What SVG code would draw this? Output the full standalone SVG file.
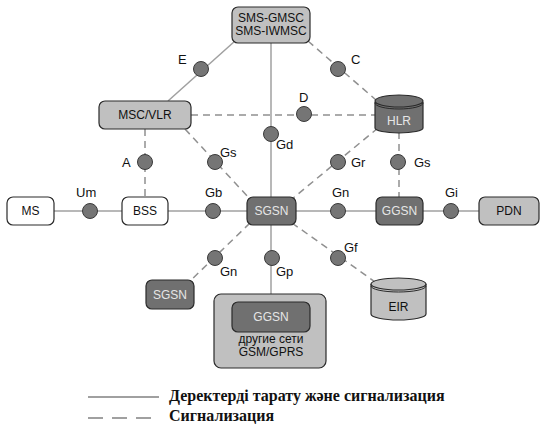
<svg xmlns="http://www.w3.org/2000/svg" width="546" height="424" viewBox="0 0 546 424">
<style>
.s{stroke:#a0a0a0;stroke-width:1.5;fill:none}
.d{stroke:#909090;stroke-width:1.5;fill:none;stroke-dasharray:7 5}
.c{fill:#757575;stroke:#3a3a3a;stroke-width:1}
.lb{font-family:"Liberation Sans",Arial,sans-serif;font-size:13px;fill:#111}
.bx{stroke:#2a2a2a;stroke-width:1.2}
.t{font-family:"Liberation Sans",Arial,sans-serif;font-size:12px;text-anchor:middle;fill:#111}
.tw{font-family:"Liberation Sans",Arial,sans-serif;font-size:12px;text-anchor:middle;fill:#e6e6e6}
.lg{font-family:"Liberation Serif","Times New Roman",serif;font-size:16px;font-weight:bold;fill:#111}
</style>
<rect width="546" height="424" fill="#fff"/>
<g id="connectors">
<line class="s" x1="271" y1="43" x2="271" y2="197"/>
<line class="s" x1="168" y1="101" x2="235" y2="41"/>
<line class="d" x1="308" y1="41" x2="376" y2="100"/>
<line class="d" x1="191" y1="115" x2="375" y2="115"/>
<line class="d" x1="185" y1="129" x2="250" y2="199"/>
<line class="d" x1="378" y1="128" x2="292" y2="199"/>
<line class="d" x1="399" y1="132" x2="399" y2="197"/>
<line class="d" x1="145" y1="129" x2="145" y2="197"/>
<line class="s" x1="54" y1="211" x2="122" y2="211"/>
<line class="s" x1="168" y1="211" x2="247" y2="211"/>
<line class="s" x1="296" y1="211" x2="376" y2="211"/>
<line class="s" x1="423" y1="211" x2="479" y2="211"/>
<line class="d" x1="250" y1="223" x2="188" y2="283"/>
<line class="s" x1="271" y1="225" x2="271" y2="294"/>
<line class="d" x1="292" y1="223" x2="378" y2="284"/>
<circle class="c" cx="201" cy="69" r="7.5"/>
<circle class="c" cx="338" cy="69" r="7.5"/>
<circle class="c" cx="304" cy="114" r="7.5"/>
<circle class="c" cx="271" cy="134" r="7.5"/>
<circle class="c" cx="145" cy="162" r="7.5"/>
<circle class="c" cx="215" cy="162" r="7.5"/>
<circle class="c" cx="338" cy="162" r="7.5"/>
<circle class="c" cx="398" cy="162" r="7.5"/>
<circle class="c" cx="90" cy="211" r="7.5"/>
<circle class="c" cx="213" cy="211" r="7.5"/>
<circle class="c" cx="338" cy="211" r="7.5"/>
<circle class="c" cx="451" cy="211" r="7.5"/>
<circle class="c" cx="215" cy="258" r="7.5"/>
<circle class="c" cx="272" cy="258" r="7.5"/>
<circle class="c" cx="338" cy="258" r="7.5"/>
<text class="lb" x="178" y="64">E</text>
<text class="lb" x="351" y="64">C</text>
<text class="lb" x="299" y="102">D</text>
<text class="lb" x="276" y="149">Gd</text>
<text class="lb" x="122" y="167">A</text>
<text class="lb" x="220" y="157">Gs</text>
<text class="lb" x="351" y="167">Gr</text>
<text class="lb" x="414" y="167">Gs</text>
<text class="lb" x="76" y="197">Um</text>
<text class="lb" x="205" y="197">Gb</text>
<text class="lb" x="332" y="197">Gn</text>
<text class="lb" x="445" y="197">Gi</text>
<text class="lb" x="220" y="276">Gn</text>
<text class="lb" x="276" y="276">Gp</text>
<text class="lb" x="344" y="252">Gf</text>
</g>
<g id="sms-gmsc">
<rect class="bx" x="232" y="7" width="78" height="36" rx="6" fill="#c0c0c0"/>
<text class="t" x="271" y="22" font-size="11">SMS-GMSC</text>
<text class="t" x="271" y="35" font-size="11">SMS-IWMSC</text>
</g>
<g id="msc-vlr">
<rect class="bx" x="99" y="101" width="92" height="28" rx="6" fill="#c0c0c0"/>
<text class="t" x="145" y="119">MSC/VLR</text>
</g>
<g id="hlr">
<path d="M375,102 L375,128 A24,5 0 0 0 423,128 L423,102" fill="#707070" stroke="#2a2a2a" stroke-width="1.2"/>
<ellipse cx="399" cy="101" rx="24" ry="6" fill="#707070" stroke="#2a2a2a" stroke-width="1.2"/>
<path d="M375,103 A24,6 0 0 0 423,103" fill="none" stroke="#2a2a2a" stroke-width="1"/>
<text class="tw" x="399" y="125" font-size="14">HLR</text>
</g>
<g id="ms">
<rect class="bx" x="7" y="197" width="47" height="28" rx="6" fill="#fff"/>
<text class="t" x="30.5" y="215">MS</text>
</g>
<g id="bss">
<rect class="bx" x="122" y="197" width="46" height="28" rx="6" fill="#fff"/>
<text class="t" x="145" y="215">BSS</text>
</g>
<g id="sgsn">
<rect class="bx" x="247" y="197" width="49" height="28" rx="6" fill="#707070"/>
<text class="tw" x="271.5" y="215">SGSN</text>
</g>
<g id="ggsn">
<rect class="bx" x="376" y="197" width="47" height="28" rx="6" fill="#707070"/>
<text class="tw" x="399.5" y="215">GGSN</text>
</g>
<g id="pdn">
<rect class="bx" x="479" y="197" width="60" height="28" rx="6" fill="#c0c0c0"/>
<text class="t" x="509" y="215">PDN</text>
</g>
<g id="sgsn2">
<rect class="bx" x="146" y="280" width="48" height="29" rx="6" fill="#707070"/>
<text class="tw" x="170" y="299">SGSN</text>
</g>
<g id="other-networks">
<rect class="bx" x="214" y="294" width="112" height="74" rx="7" fill="#c0c0c0"/>
<rect class="bx" x="232" y="302" width="78" height="30" rx="6" fill="#707070"/>
<text class="tw" x="271" y="321">GGSN</text>
<text class="t" x="271" y="343" font-size="9.5">другие сети</text>
<text class="t" x="271" y="356" font-size="9.5">GSM/GPRS</text>
</g>
<g id="eir">
<path d="M371,284 L371,314 A27.5,6 0 0 0 426,314 L426,284" fill="#c0c0c0" stroke="#2a2a2a" stroke-width="1.2"/>
<ellipse cx="398.5" cy="284" rx="27.5" ry="6" fill="#c0c0c0" stroke="#2a2a2a" stroke-width="1.2"/>
<path d="M371,286 A27.5,6 0 0 0 426,286" fill="none" stroke="#2a2a2a" stroke-width="1"/>
<text class="t" x="398.5" y="311" font-size="14">EIR</text>
</g>
<g id="legend">
<line x1="88" y1="397" x2="159" y2="397" stroke="#a0a0a0" stroke-width="2"/>
<line x1="88" y1="418" x2="159" y2="418" stroke="#a0a0a0" stroke-width="2" stroke-dasharray="15 9"/>
<text class="lg" x="169" y="401">Деректерді тарату және сигнализация</text>
<text class="lg" x="169" y="421">Сигнализация</text>
</g>
</svg>
